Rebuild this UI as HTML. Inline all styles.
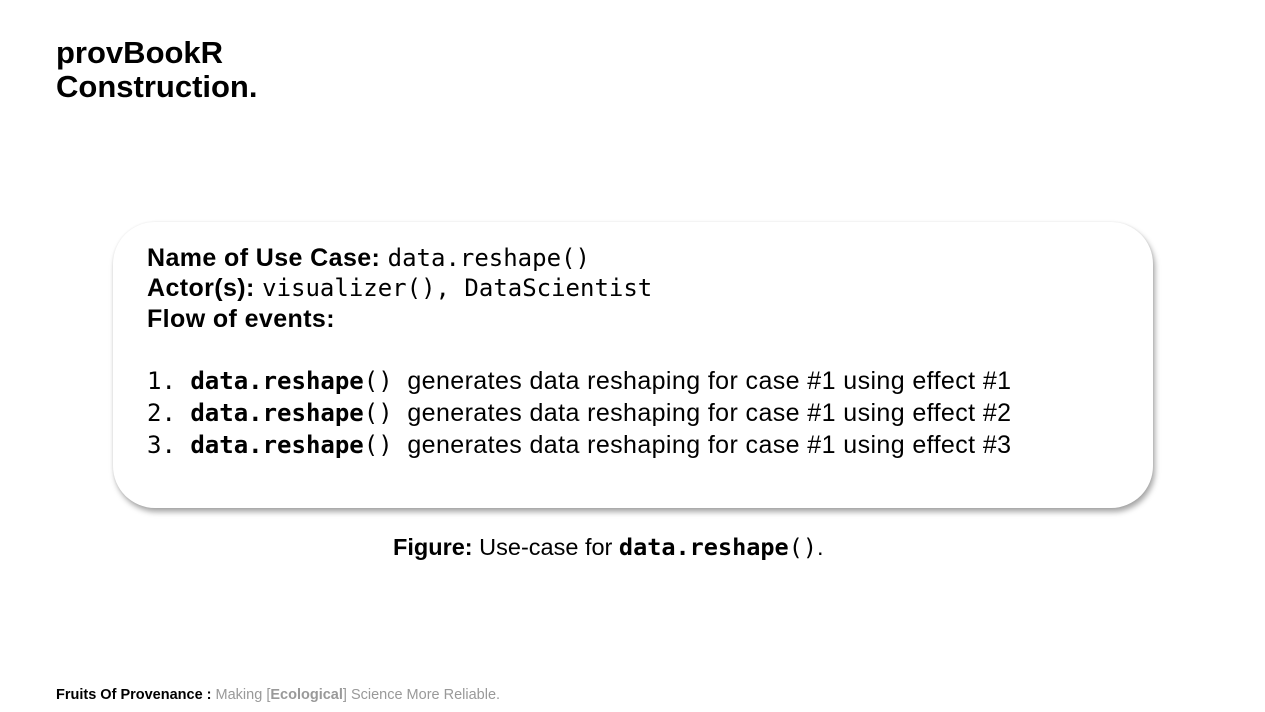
<!DOCTYPE html>
<html><head><meta charset="utf-8"><style>
body{margin:0;width:1265px;height:712px;background:#fff;position:relative;overflow:hidden;font-family:"Liberation Sans",sans-serif;color:#000}
.t{position:absolute;left:56px;top:36px;font-size:31px;font-weight:bold;line-height:34px}
.box{position:absolute;left:113px;top:222px;width:1040px;height:286px;border-radius:42px;background:#fff;box-shadow:2px 4px 6px rgba(0,0,0,.35),0 0 2px rgba(0,0,0,.08)}
.l{position:absolute;left:147px;font-size:25px;letter-spacing:0.4px;white-space:nowrap;line-height:30px}
.m{font-family:"DejaVu Sans Mono",monospace;font-size:24px;letter-spacing:0}
.cap{position:absolute;left:393px;top:533px;font-size:23.5px;white-space:nowrap}
.cap .m{font-size:23.5px}
.f{position:absolute;left:56px;top:687px;font-size:14.5px;color:#999}
</style></head><body>
<div class="t">provBookR<br>Construction.</div>
<div class="box"></div>
<div class="l" style="top:243px"><b>Name of Use Case:</b> <span class="m">data.reshape()</span></div>
<div class="l" style="top:273px"><b>Actor(s):</b> <span class="m">visualizer(), DataScientist</span></div>
<div class="l" style="top:304px"><b>Flow of events:</b></div>
<div class="l" style="top:366px"><span class="m">1. <b>data.reshape</b>()</span>&nbsp; generates data reshaping for case #1 using effect #1</div>
<div class="l" style="top:398px"><span class="m">2. <b>data.reshape</b>()</span>&nbsp; generates data reshaping for case #1 using effect #2</div>
<div class="l" style="top:430px"><span class="m">3. <b>data.reshape</b>()</span>&nbsp; generates data reshaping for case #1 using effect #3</div>
<div class="cap"><b>Figure:</b> Use-case for <span class="m"><b>data.reshape</b>()</span>.</div>
<div class="f"><b style="color:#000">Fruits Of Provenance :</b> Making [<b>Ecological</b>] Science More Reliable.</div>
</body></html>
